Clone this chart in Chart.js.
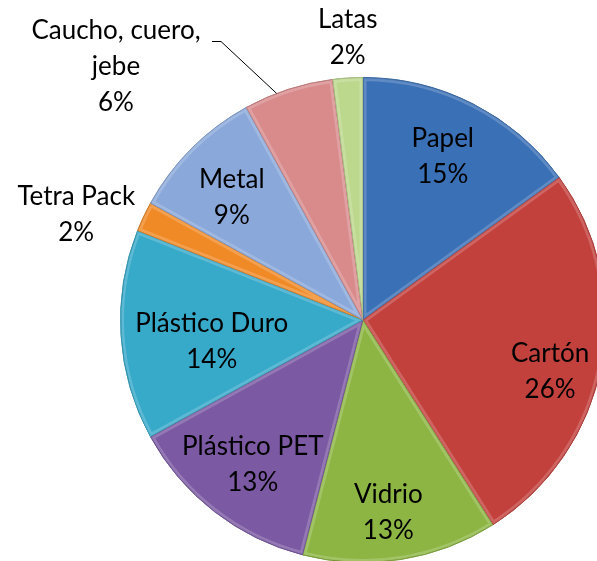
<!DOCTYPE html>
<html>
<head>
<meta charset="utf-8">
<script src="https://cdn.jsdelivr.net/npm/chart.js@4.4.1/dist/chart.umd.min.js"></script>
<style>
  html, body { margin: 0; padding: 0; background: #ffffff; overflow: hidden; }
  #wrap { position: absolute; left: 0; top: 0; width: 597px; height: 561px; overflow: hidden; }
  #c { position: absolute; left: 0; top: 0; }
</style>
</head>
<body>
<div id="wrap"><canvas id="c" width="620" height="600"></canvas></div>
<script>
// ---- data ----
const categories = ['Papel', 'Cartón', 'Vidrio', 'Plástico PET', 'Plástico Duro', 'Tetra Pack', 'Metal', 'Caucho, cuero, jebe', 'Latas'];
const values = [15, 26, 13, 13, 14, 2, 9, 6, 2];
const labelLines = [
  ['Papel'], ['Cartón'], ['Vidrio'], ['Plástico PET'], ['Plástico Duro'],
  ['Tetra Pack'], ['Metal'], ['Caucho, cuero,', 'jebe'], ['Latas']
];

// ---- styles ----
const colors = ['#3a70b6', '#c3413d', '#8cb543', '#7b59a3', '#37a9c9', '#f08a26', '#8aa8da', '#d98b8c', '#bcd88c'];
// label placement: radius factor (of outer radius) and angle shift (deg)
const labelPlace = [
  { r: 0.75, a: -1 }, { r: 0.80, a: 4.5 }, { r: 0.80, a: 1.5 }, { r: 0.75, a: -0.5 },
  { r: 0.63, a: -4.5 }, { r: 1.26, a: -5 }, { r: 0.74, a: -2 }, { leader: true }, { r: 1.165, a: 0.5 }
];

function shade(hex, amt) {
  const n = parseInt(hex.slice(1), 16);
  let r = (n >> 16) & 255, g = (n >> 8) & 255, b = n & 255;
  if (amt >= 0) { r += (255 - r) * amt; g += (255 - g) * amt; b += (255 - b) * amt; }
  else { r *= (1 + amt); g *= (1 + amt); b *= (1 + amt); }
  return `rgb(${Math.round(r)},${Math.round(g)},${Math.round(b)})`;
}

const FONT = '26px Lato, "Open Sans", sans-serif';
const LINE_H = 36;

const bevelPlugin = {
  id: 'bevel',
  afterDatasetsDraw(chart) {
    const ctx = chart.ctx;
    const meta = chart.getDatasetMeta(0);
    meta.data.forEach((arc, i) => {
      const { x, y, startAngle, endAngle, outerRadius } = arc.getProps(['x', 'y', 'startAngle', 'endAngle', 'outerRadius'], true);
      ctx.save();
      ctx.beginPath();
      ctx.moveTo(x, y);
      ctx.arc(x, y, outerRadius, startAngle, endAngle);
      ctx.closePath();
      ctx.clip();
      ctx.lineJoin = 'round';
      ctx.strokeStyle = shade(colors[i], 0.35);
      ctx.globalAlpha = 0.55;
      ctx.lineWidth = 7;
      ctx.stroke();
      ctx.globalAlpha = 0.8;
      ctx.strokeStyle = shade(colors[i], 0.15);
      ctx.lineWidth = 3;
      ctx.stroke();
      ctx.globalAlpha = 1;
      ctx.strokeStyle = shade(colors[i], -0.2);
      ctx.lineWidth = 1;
      ctx.stroke();
      ctx.restore();
    });
  }
};

const labelPlugin = {
  id: 'sliceLabels',
  afterDraw(chart) {
    const ctx = chart.ctx;
    const meta = chart.getDatasetMeta(0);
    const total = values.reduce((a, b) => a + b, 0);
    ctx.save();
    ctx.font = FONT;
    ctx.fillStyle = '#000000';
    ctx.textAlign = 'center';
    ctx.textBaseline = 'middle';
    meta.data.forEach((arc, i) => {
      const { x, y, startAngle, endAngle, outerRadius } = arc.getProps(['x', 'y', 'startAngle', 'endAngle', 'outerRadius'], true);
      const mid = (startAngle + endAngle) / 2;
      const pct = Math.round(values[i] / total * 100) + '%';
      const lines = labelLines[i].concat([pct]);
      const p = labelPlace[i];
      let cx, cy;
      if (p.leader) {
        const ex = x + outerRadius * Math.cos(mid - 0.05);
        const ey = y + outerRadius * Math.sin(mid - 0.05);
        cx = 116; cy = 67;
        ctx.strokeStyle = '#000000';
        ctx.lineWidth = 1;
        ctx.beginPath();
        ctx.moveTo(212, 41.5);
        ctx.lineTo(221, 41.5);
        ctx.lineTo(ex, ey);
        ctx.stroke();
      } else {
        const ang = mid + p.a * Math.PI / 180;
        cx = x + outerRadius * p.r * Math.cos(ang);
        cy = y + outerRadius * p.r * Math.sin(ang);
      }
      const top = cy - (lines.length - 1) * LINE_H / 2;
      lines.forEach((t, k) => ctx.fillText(t, cx, top + k * LINE_H));
    });
    ctx.restore();
  }
};

new Chart(document.getElementById('c'), {
  type: 'pie',
  data: {
    labels: categories,
    datasets: [{
      data: values,
      backgroundColor: colors,
      borderColor: colors.map(c => shade(c, -0.2)),
      borderWidth: 1,
      hoverOffset: 0,
      hoverBorderWidth: 1
    }]
  },
  options: {
    responsive: false,
    animation: false,
    layout: { padding: { left: 120, top: 77, right: 14, bottom: 37 } },
    plugins: { legend: { display: false }, tooltip: { enabled: false } }
  },
  plugins: [bevelPlugin, labelPlugin]
});
</script>
</body>
</html>
